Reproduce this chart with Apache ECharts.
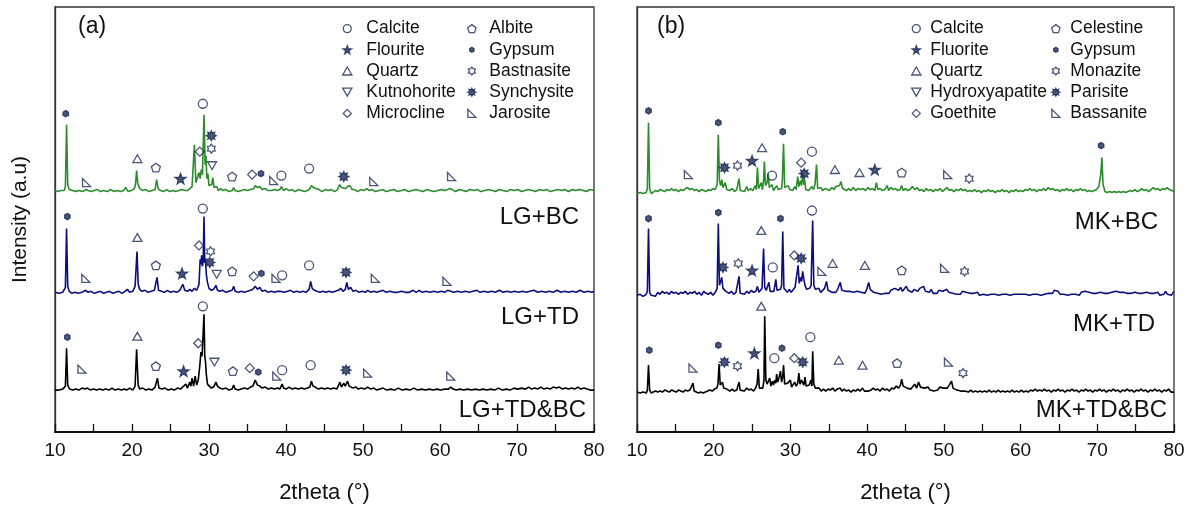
<!DOCTYPE html>
<html>
<head>
<meta charset="utf-8">
<title>XRD patterns</title>
<script src="https://cdn.jsdelivr.net/npm/echarts@6/dist/echarts.min.js"></script>
<style>
  html, body { margin: 0; padding: 0; background: #fff; }
  #chart { width: 1195px; height: 509px; }
</style>
</head>
<body>
<div id="chart"></div>
<script>
// ---------- data: 2theta (deg) vs. intensity (a.u.), each pattern relative to its own baseline ----------
const xTicks = [10, 20, 30, 40, 50, 60, 70, 80];
const sampleNamesA = ['LG+BC', 'LG+TD', 'LG+TD&BC'];
const sampleNamesB = ['MK+BC', 'MK+TD', 'MK+TD&BC'];
// vertical stacking of the three patterns in each panel
const stackA = [240, 138, 40];
const stackB = [238, 135, 38];

const lgBC = [[10,2],[10.4,1],[10.8,2],[11.2,2],[11.35,6],[11.5,68],[11.65,8],[11.85,3],[12.3,2],[12.7,1],[13.1,2],[13.6,1],[14.0,3],[14.3,2],[14.7,1],[15.1,2],[15.5,3],[15.9,1],[16.3,2],[16.8,1],[17.2,3],[17.7,1],[18.1,2],[18.5,1],[18.9,2],[19.2,5],[19.5,1],[19.9,2],[20.3,4],[20.45,8],[20.6,22],[20.75,9],[21.0,4],[21.4,2],[21.8,3],[22.2,1],[22.6,2],[23.0,3],[23.2,13],[23.4,4],[23.7,2],[24.1,1],[24.5,3],[24.9,1],[25.3,2],[25.7,1],[26.1,2],[26.4,3],[26.6,5],[26.9,2],[27.2,2],[27.5,4],[27.8,6],[28.1,48],[28.3,10],[28.5,12],[28.7,20],[28.85,14],[29.0,23],[29.15,18],[29.35,78],[29.5,28],[29.6,37],[29.72,14],[29.85,19],[30.0,7],[30.2,5],[30.35,8],[30.5,15],[30.65,5],[30.8,3],[31.0,6],[31.2,2],[31.5,4],[31.8,2],[32.2,3],[32.6,1],[33.0,2],[33.2,5],[33.4,2],[33.8,1],[34.2,2],[34.6,3],[35.0,2],[35.4,3],[35.8,4],[36.0,7],[36.3,5],[36.6,6],[36.9,3],[37.3,4],[37.7,2],[38.1,2],[38.5,3],[38.9,2],[39.2,3],[39.4,6],[39.7,2],[40.0,4],[40.4,2],[40.8,3],[41.2,1],[41.6,3],[42.0,2],[42.4,1],[42.8,2],[43.1,4],[43.3,7],[43.6,5],[43.9,4],[44.3,3],[44.7,1],[45.1,3],[45.5,2],[45.9,3],[46.3,1],[46.7,3],[46.95,8],[47.2,5],[47.45,7],[47.7,4],[48.0,6],[48.3,7],[48.6,3],[48.9,3],[49.3,1],[49.7,3],[50.1,2],[50.5,4],[50.8,2],[51.2,3],[51.6,1],[52.1,2],[52.6,3],[53.0,1],[53.5,2],[54.0,3],[54.5,1],[55.0,2],[55.4,3],[55.9,1],[56.4,2],[56.9,3],[57.3,2],[57.8,1],[58.3,3],[58.7,2],[59.2,1],[59.7,2],[60.2,3],[60.6,2],[61.0,3],[61.3,4],[61.6,3],[62.0,1],[62.5,3],[63.0,2],[63.4,1],[63.9,3],[64.4,2],[64.9,3],[65.3,1],[65.8,2],[66.3,3],[66.8,2],[67.2,1],[67.7,3],[68.2,2],[68.7,1],[69.1,3],[69.6,2],[70.1,3],[70.6,1],[71.0,2],[71.5,3],[72.0,2],[72.4,1],[72.9,3],[73.4,2],[73.9,3],[74.3,1],[74.8,2],[75.3,3],[75.8,2],[76.2,3],[76.7,1],[77.2,3],[77.6,2],[78.1,3],[78.6,2],[79.0,1],[79.5,3],[80,2]];

const lgTD = [[10,2],[10.5,1],[11.0,2],[11.35,7],[11.5,66],[11.65,8],[11.85,3],[12.2,1],[12.6,2],[13.0,1],[13.5,2],[14.0,4],[14.3,2],[14.7,3],[15.1,1],[15.5,2],[15.9,3],[16.3,1],[16.7,2],[17.1,3],[17.5,1],[17.9,2],[18.3,3],[18.7,1],[19.1,3],[19.4,5],[19.7,2],[20.1,3],[20.4,8],[20.65,43],[20.8,10],[21.0,5],[21.3,3],[21.7,4],[22.1,2],[22.5,3],[22.9,4],[23.1,6],[23.25,17],[23.45,4],[23.8,3],[24.2,2],[24.6,4],[25.0,2],[25.4,3],[25.8,2],[26.2,4],[26.6,10],[26.85,4],[27.2,3],[27.5,5],[27.8,3],[28.1,6],[28.4,4],[28.7,10],[28.85,35],[28.95,30],[29.05,39],[29.15,28],[29.25,34],[29.35,78],[29.45,32],[29.55,35],[29.65,20],[29.8,12],[30.0,6],[30.3,4],[30.6,5],[30.9,9],[31.1,4],[31.4,3],[31.8,4],[32.2,2],[32.6,3],[33.0,4],[33.2,8],[33.4,3],[33.8,2],[34.2,3],[34.6,2],[35.0,3],[35.4,4],[35.7,5],[36.0,8],[36.3,5],[36.6,7],[36.9,3],[37.3,4],[37.7,2],[38.1,3],[38.5,2],[38.9,3],[39.2,3],[39.45,5],[39.8,2],[40.2,3],[40.6,4],[41.0,2],[41.4,3],[41.8,2],[42.2,3],[42.6,2],[43.0,5],[43.2,13],[43.4,6],[43.7,4],[44.0,3],[44.4,2],[44.8,3],[45.2,2],[45.6,3],[46.0,2],[46.4,3],[46.8,4],[47.1,6],[47.4,3],[47.7,5],[47.9,12],[48.1,5],[48.4,7],[48.7,3],[49.1,4],[49.5,2],[49.9,3],[50.3,2],[50.6,4],[51.0,2],[51.4,3],[51.8,2],[52.2,3],[52.6,4],[53.0,2],[53.5,3],[54.0,2],[54.5,2],[55.0,3],[55.5,2],[56.0,2],[56.5,4],[56.9,2],[57.3,4],[57.7,2],[58.2,3],[58.7,2],[59.2,3],[59.7,2],[60.2,3],[60.6,2],[61.0,4],[61.4,3],[61.8,2],[62.3,3],[62.8,2],[63.3,3],[63.8,2],[64.3,3],[64.8,4],[65.2,2],[65.7,3],[66.2,2],[66.7,3],[67.2,2],[67.7,4],[68.2,2],[68.7,3],[69.2,2],[69.7,3],[70.2,2],[70.7,3],[71.2,2],[71.7,3],[72.2,4],[72.7,2],[73.2,3],[73.7,2],[74.2,3],[74.7,2],[75.2,4],[75.7,2],[76.2,3],[76.7,2],[77.2,3],[77.7,2],[78.2,4],[78.7,2],[79.2,3],[79.7,2],[80,3]];

const lgTDBC = [[10,2],[10.5,2],[11.0,3],[11.35,6],[11.5,44],[11.65,7],[11.9,3],[12.3,2],[12.7,3],[13.1,2],[13.5,4],[13.7,6],[13.9,3],[14.2,4],[14.6,2],[15.0,3],[15.4,2],[15.8,3],[16.2,2],[16.6,3],[17.0,2],[17.4,4],[17.8,2],[18.2,3],[18.6,2],[19.0,3],[19.3,2],[19.7,4],[20.1,2],[20.4,6],[20.6,43],[20.8,7],[21.0,3],[21.4,4],[21.8,2],[22.2,3],[22.6,2],[23.0,5],[23.3,14],[23.5,4],[23.9,3],[24.3,4],[24.7,2],[25.1,3],[25.5,2],[25.9,4],[26.3,3],[26.7,6],[27.0,8],[27.2,4],[27.5,10],[27.65,6],[27.8,14],[28.0,6],[28.2,16],[28.4,7],[28.6,12],[28.8,26],[28.95,40],[29.1,36],[29.2,38],[29.35,78],[29.45,36],[29.55,30],[29.65,18],[29.8,8],[30.0,6],[30.3,4],[30.6,5],[30.9,10],[31.1,6],[31.4,4],[31.8,3],[32.2,4],[32.6,2],[33.0,3],[33.2,7],[33.4,3],[33.8,2],[34.2,3],[34.6,4],[35.0,3],[35.4,5],[35.7,6],[36.0,12],[36.3,7],[36.6,6],[36.9,4],[37.3,5],[37.7,3],[38.1,4],[38.5,3],[38.9,4],[39.2,3],[39.5,8],[39.7,4],[40.0,3],[40.4,5],[40.8,3],[41.2,4],[41.6,3],[42.0,4],[42.4,3],[42.8,4],[43.1,5],[43.3,11],[43.5,6],[43.8,5],[44.2,3],[44.6,4],[45.0,3],[45.4,4],[45.8,3],[46.2,4],[46.6,3],[47.0,10],[47.2,5],[47.5,9],[47.7,6],[48.0,11],[48.2,6],[48.4,8],[48.7,4],[49.1,5],[49.4,3],[49.8,4],[50.2,3],[50.6,5],[51.0,3],[51.4,4],[51.8,2],[52.2,3],[52.6,4],[53.1,2],[53.6,3],[54.1,2],[54.6,4],[55.1,2],[55.6,3],[56.1,2],[56.6,4],[57.1,2],[57.6,3],[58.1,2],[58.6,3],[59.1,2],[59.6,3],[60.1,2],[60.6,3],[61.1,3],[61.4,5],[61.7,3],[62.1,2],[62.6,3],[63.1,2],[63.6,3],[64.1,2],[64.6,3],[65.1,2],[65.6,3],[66.1,2],[66.6,3],[67.1,2],[67.6,4],[68.1,2],[68.6,3],[69.1,2],[69.6,4],[70.1,3],[70.6,4],[71.1,3],[71.5,5],[71.9,3],[72.3,4],[72.7,3],[73.1,5],[73.5,3],[73.9,4],[74.3,3],[74.7,5],[75.1,4],[75.5,5],[75.9,3],[76.3,4],[76.7,3],[77.1,4],[77.5,3],[77.9,5],[78.3,3],[78.7,4],[79.1,3],[79.5,2],[80,2]];

const mkBC = [[10,1],[10.4,2],[10.8,1],[11.2,2],[11.35,6],[11.5,72],[11.65,6],[11.85,1],[12.1,3],[12.4,4],[12.7,3],[13.0,5],[13.3,4],[13.6,3],[13.9,5],[14.2,4],[14.5,6],[14.8,4],[15.1,5],[15.4,3],[15.7,5],[16.0,4],[16.3,6],[16.6,7],[16.9,5],[17.2,6],[17.5,4],[17.8,5],[18.1,3],[18.4,5],[18.7,4],[19.0,3],[19.3,5],[19.6,4],[19.9,6],[20.2,5],[20.45,10],[20.6,60],[20.75,14],[20.9,9],[21.05,15],[21.2,7],[21.35,8],[21.5,12],[21.7,5],[21.9,7],[22.1,4],[22.4,6],[22.7,3],[23.0,5],[23.15,7],[23.3,16],[23.45,4],[23.7,6],[24.0,3],[24.3,8],[24.5,4],[24.8,6],[25.1,4],[25.4,9],[25.55,5],[25.7,27],[25.85,6],[26.05,8],[26.2,12],[26.35,5],[26.5,14],[26.6,33],[26.75,9],[26.95,12],[27.1,21],[27.25,7],[27.45,8],[27.6,10],[27.8,4],[28.0,6],[28.2,9],[28.4,5],[28.6,7],[28.85,6],[28.95,15],[29.1,51],[29.25,7],[29.45,6],[29.7,9],[29.9,5],[30.1,6],[30.3,4],[30.55,8],[30.75,5],[30.95,18],[31.1,8],[31.3,14],[31.45,9],[31.6,22],[31.75,10],[31.85,15],[32.0,5],[32.2,6],[32.4,4],[32.6,6],[32.8,8],[33.0,5],[33.2,10],[33.4,30],[33.55,6],[33.8,5],[34.0,7],[34.2,4],[34.5,6],[34.8,5],[35.1,4],[35.4,7],[35.7,5],[35.9,8],[36.15,6],[36.4,9],[36.6,13],[36.8,6],[37.0,8],[37.3,4],[37.6,6],[37.9,4],[38.2,7],[38.5,4],[38.8,6],[39.0,8],[39.2,5],[39.5,6],[39.8,4],[40.1,7],[40.4,5],[40.7,6],[41.0,4],[41.2,12],[41.4,5],[41.7,6],[42.0,4],[42.3,5],[42.6,9],[42.8,4],[43.1,7],[43.4,5],[43.7,6],[44.0,4],[44.3,5],[44.5,9],[44.7,4],[45.0,6],[45.3,4],[45.6,5],[45.9,8],[46.2,5],[46.5,7],[46.8,4],[47.1,5],[47.4,3],[47.7,6],[48.0,4],[48.3,5],[48.6,3],[48.9,5],[49.2,4],[49.5,6],[49.8,3],[50.1,5],[50.4,7],[50.7,4],[51.0,5],[51.3,3],[51.6,5],[51.9,4],[52.2,6],[52.5,4],[52.8,5],[53.1,3],[53.4,4],[53.7,3],[54.0,5],[54.3,3],[54.6,4],[54.9,2],[55.2,4],[55.5,3],[55.8,5],[56.1,3],[56.4,4],[56.7,2],[57.0,4],[57.3,3],[57.6,5],[57.9,3],[58.2,4],[58.5,2],[58.8,4],[59.1,3],[59.4,5],[59.7,3],[60.0,4],[60.3,3],[60.6,5],[60.9,4],[61.2,6],[61.5,4],[61.8,5],[62.1,3],[62.4,5],[62.7,4],[63.0,6],[63.3,4],[63.6,7],[63.9,5],[64.2,6],[64.5,4],[64.8,5],[65.1,3],[65.4,5],[65.7,4],[66.0,6],[66.3,4],[66.6,5],[66.9,3],[67.2,5],[67.5,4],[67.8,6],[68.1,4],[68.4,5],[68.7,3],[69.0,4],[69.3,3],[69.6,4],[69.9,5],[70.2,8],[70.45,20],[70.6,37],[70.75,10],[71.0,3],[71.3,2],[71.6,3],[71.9,2],[72.2,3],[72.5,2],[72.8,3],[73.1,2],[73.4,3],[73.7,2],[74.0,3],[74.3,4],[74.6,3],[74.9,5],[75.2,3],[75.5,4],[75.8,6],[76.1,4],[76.4,5],[76.7,3],[77.0,5],[77.3,7],[77.6,5],[77.9,6],[78.2,4],[78.5,6],[78.8,5],[79.1,7],[79.4,5],[79.7,4],[80,3]];

const mkTD = [[10,2],[10.4,3],[10.8,1],[11.2,3],[11.35,6],[11.5,69],[11.65,5],[11.85,2],[12.1,4],[12.4,1],[12.7,5],[13.0,3],[13.3,6],[13.6,4],[13.9,5],[14.2,3],[14.5,6],[14.8,4],[15.1,5],[15.4,3],[15.7,5],[16.0,4],[16.3,6],[16.6,3],[16.9,5],[17.2,4],[17.5,6],[17.8,3],[18.1,5],[18.4,2],[18.7,6],[19.0,4],[19.3,3],[19.6,5],[19.9,2],[20.2,5],[20.45,9],[20.6,74],[20.75,12],[20.9,16],[21.05,20],[21.2,9],[21.4,11],[21.6,6],[21.8,8],[22.0,4],[22.3,6],[22.6,3],[22.9,5],[23.15,6],[23.3,21],[23.45,4],[23.7,5],[24.0,3],[24.3,6],[24.6,4],[24.9,7],[25.2,5],[25.5,6],[25.7,11],[25.9,5],[26.1,7],[26.3,9],[26.5,49],[26.65,10],[26.85,7],[27.05,9],[27.2,15],[27.35,6],[27.6,8],[27.85,6],[28.1,18],[28.25,7],[28.5,9],[28.7,8],[28.85,12],[29.0,66],[29.15,9],[29.35,7],[29.6,5],[29.85,8],[30.1,5],[30.35,7],[30.6,10],[30.85,12],[31.0,32],[31.15,14],[31.3,20],[31.45,16],[31.6,26],[31.75,18],[31.9,12],[32.1,8],[32.3,6],[32.5,9],[32.7,12],[32.9,77],[33.05,12],[33.25,8],[33.45,6],[33.7,9],[33.95,5],[34.2,7],[34.45,9],[34.7,16],[34.9,7],[35.15,9],[35.4,5],[35.65,7],[35.9,5],[36.15,8],[36.35,10],[36.5,15],[36.7,7],[36.95,5],[37.2,6],[37.45,4],[37.7,6],[37.95,4],[38.2,5],[38.45,3],[38.7,6],[38.95,4],[39.2,5],[39.45,7],[39.7,4],[39.95,8],[40.2,15],[40.4,8],[40.6,10],[40.85,5],[41.1,6],[41.35,4],[41.6,5],[41.85,3],[42.1,5],[42.35,4],[42.6,6],[42.85,4],[43.1,7],[43.35,5],[43.6,9],[43.85,11],[44.1,7],[44.35,10],[44.6,6],[44.85,8],[45.1,11],[45.35,7],[45.6,9],[45.85,5],[46.1,8],[46.35,10],[46.6,6],[46.85,9],[47.1,7],[47.35,11],[47.6,6],[47.85,7],[48.1,5],[48.35,8],[48.6,4],[48.85,6],[49.1,4],[49.35,7],[49.6,5],[49.85,6],[50.1,4],[50.4,8],[50.65,5],[50.9,6],[51.15,4],[51.4,6],[51.65,3],[51.9,5],[52.15,3],[52.4,6],[52.65,4],[52.9,5],[53.15,3],[53.4,4],[53.65,2],[53.9,4],[54.15,3],[54.4,5],[54.65,2],[54.9,4],[55.15,3],[55.4,4],[55.65,2],[55.9,4],[56.15,3],[56.4,5],[56.65,3],[56.9,4],[57.15,2],[57.4,4],[57.65,3],[57.9,5],[58.15,3],[58.4,4],[58.65,2],[58.9,4],[59.15,3],[59.4,5],[59.65,3],[59.9,4],[60.15,3],[60.4,5],[60.65,3],[60.9,4],[61.15,2],[61.4,4],[61.65,3],[61.9,5],[62.15,3],[62.4,4],[62.65,2],[62.9,4],[63.15,3],[63.4,5],[63.65,4],[63.9,6],[64.15,4],[64.4,7],[64.65,5],[64.9,6],[65.15,3],[65.4,5],[65.65,3],[65.9,4],[66.15,2],[66.4,4],[66.65,3],[66.9,5],[67.15,3],[67.4,4],[67.65,2],[67.9,5],[68.15,3],[68.4,6],[68.65,4],[68.9,5],[69.15,3],[69.4,4],[69.65,2],[69.9,4],[70.15,3],[70.4,5],[70.65,3],[70.9,4],[71.15,2],[71.4,4],[71.65,3],[71.9,5],[72.15,3],[72.4,6],[72.65,4],[72.9,5],[73.15,3],[73.4,5],[73.65,3],[73.9,4],[74.15,2],[74.4,4],[74.65,3],[74.9,5],[75.15,3],[75.4,4],[75.65,2],[75.9,4],[76.15,3],[76.4,5],[76.65,3],[76.9,4],[77.15,2],[77.4,4],[77.65,3],[77.9,5],[78.15,2],[78.4,4],[78.65,3],[78.9,6],[79.15,3],[79.4,5],[79.65,2],[80,6]];

const mkTDBC = [[10,2],[10.4,1],[10.8,2],[11.2,1],[11.35,4],[11.5,29],[11.65,4],[11.85,1],[12.1,2],[12.4,3],[12.7,2],[13.0,3],[13.3,2],[13.6,4],[13.9,3],[14.2,2],[14.5,4],[14.8,3],[15.1,2],[15.4,4],[15.7,3],[16.0,2],[16.3,4],[16.6,3],[16.9,4],[17.15,3],[17.3,11],[17.45,3],[17.7,2],[18.0,1],[18.3,2],[18.6,1],[18.9,2],[19.2,3],[19.5,4],[19.8,3],[20.1,5],[20.4,6],[20.55,10],[20.7,30],[20.85,9],[21.0,7],[21.15,12],[21.3,6],[21.5,8],[21.7,5],[21.9,6],[22.1,3],[22.4,5],[22.7,3],[23.0,4],[23.15,5],[23.3,12],[23.45,4],[23.7,5],[24.0,3],[24.3,6],[24.6,4],[24.9,5],[25.2,3],[25.45,6],[25.65,10],[25.8,25],[25.95,6],[26.2,8],[26.4,6],[26.55,14],[26.65,78],[26.8,14],[26.95,10],[27.1,12],[27.3,16],[27.45,8],[27.65,13],[27.8,9],[27.95,14],[28.1,11],[28.2,20],[28.35,12],[28.5,16],[28.7,23],[28.85,12],[29.0,18],[29.1,29],[29.25,10],[29.45,8],[29.65,11],[29.85,9],[30.0,14],[30.15,7],[30.35,9],[30.55,12],[30.75,8],[30.95,11],[31.1,21],[31.25,10],[31.45,14],[31.6,12],[31.75,9],[31.9,17],[32.05,8],[32.25,6],[32.45,9],[32.65,14],[32.8,8],[32.9,43],[33.05,10],[33.25,6],[33.5,4],[33.75,6],[34.0,3],[34.3,5],[34.6,3],[34.9,5],[35.2,4],[35.5,6],[35.8,3],[36.1,5],[36.35,4],[36.5,6],[36.7,3],[37.0,5],[37.3,3],[37.6,4],[37.9,2],[38.2,4],[38.5,3],[38.8,5],[39.1,3],[39.4,6],[39.65,3],[39.9,5],[40.2,3],[40.5,4],[40.8,6],[41.1,4],[41.4,5],[41.7,3],[42.0,6],[42.3,4],[42.6,5],[42.9,3],[43.2,6],[43.5,5],[43.8,8],[44.1,6],[44.35,9],[44.5,15],[44.7,8],[44.95,10],[45.2,6],[45.45,8],[45.7,5],[45.95,7],[46.2,10],[46.45,6],[46.7,12],[46.95,7],[47.2,9],[47.45,6],[47.7,5],[47.95,7],[48.2,4],[48.45,6],[48.7,3],[48.95,5],[49.2,4],[49.45,7],[49.7,5],[49.95,6],[50.2,8],[50.45,6],[50.7,9],[50.85,7],[51.0,13],[51.2,6],[51.45,8],[51.7,4],[51.95,6],[52.2,3],[52.45,5],[52.7,3],[52.95,4],[53.2,2],[53.5,4],[53.8,2],[54.1,3],[54.4,2],[54.7,3],[55.0,2],[55.3,3],[55.6,2],[55.9,4],[56.2,2],[56.5,3],[56.8,2],[57.1,4],[57.4,2],[57.7,3],[58.0,2],[58.3,3],[58.6,2],[58.9,4],[59.2,2],[59.5,3],[59.8,2],[60.1,4],[60.4,2],[60.7,3],[61.0,2],[61.3,4],[61.6,3],[61.9,5],[62.2,3],[62.5,4],[62.8,3],[63.1,5],[63.4,3],[63.7,4],[64.0,2],[64.3,4],[64.6,3],[64.9,5],[65.2,3],[65.5,4],[65.8,2],[66.1,4],[66.4,3],[66.7,5],[67.0,3],[67.3,4],[67.6,2],[67.9,4],[68.2,3],[68.5,5],[68.8,3],[69.1,4],[69.4,2],[69.7,4],[70.0,3],[70.3,5],[70.6,3],[70.9,4],[71.2,2],[71.5,4],[71.8,3],[72.1,5],[72.4,3],[72.7,4],[73.0,2],[73.3,4],[73.6,3],[73.9,5],[74.2,3],[74.5,4],[74.8,2],[75.1,4],[75.4,3],[75.7,5],[76.0,3],[76.3,4],[76.6,2],[76.9,4],[77.2,3],[77.5,5],[77.8,3],[78.1,4],[78.4,2],[78.7,4],[79.0,3],[79.3,5],[79.6,2],[80,2]];

// ---------- phase identification marks: [2theta, intensity level on the stacked scale] ----------
const calciteA     = [[29.2,329],[39.4,257],[43.0,264],[29.2,224],[39.5,157],[43.0,167],[29.2,126],[39.5,62],[43.2,67]];
const flouriteA    = [[26.3,254],[26.5,159],[26.7,61]];
const quartzA      = [[20.7,274],[20.7,195],[20.7,96]];
const kutnohoriteA = [[30.4,267],[31.0,158],[30.7,70]];
const microclineA  = [[28.8,281],[35.6,258],[28.7,187],[35.8,156],[28.6,89],[35.3,64]];
const albiteA      = [[23.1,265],[33.0,256],[23.1,167],[33.0,161],[23.1,66],[33.1,61]];
const gypsumA      = [[11.4,319],[36.75,259],[11.6,216],[36.8,159],[11.6,95],[36.4,60]];
const bastnasiteA  = [[30.3,284],[30.2,181]];
const synchysiteA  = [[30.3,297],[47.5,256],[30.1,170],[47.8,160],[47.8,62]];
const jarositeA    = [[14.1,250],[38.4,252],[51.4,251],[61.5,256],[14.0,154],[38.7,154],[51.6,154],[60.9,151],[13.5,63],[38.8,56],[50.6,59],[61.4,56]];

const calciteB        = [[27.6,257],[32.8,281],[27.7,165],[32.8,222],[27.9,74],[32.6,95]];
const fluoriteB       = [[25.0,272],[41.0,263],[25.0,162],[25.3,79]];
const quartzB         = [[26.3,285],[35.8,263],[39.0,260],[26.2,202],[35.5,169],[39.7,167],[26.2,126],[36.3,72],[39.4,67]];
const hydroxyapatiteB = [];
const goethiteB       = [[31.4,270],[30.5,177],[30.5,74]];
const celestineB      = [[44.5,260],[44.5,162],[43.9,69]];
const gypsumB         = [[11.5,322],[20.6,310],[29.0,301],[70.5,287],[11.5,214],[20.6,220],[28.7,214],[11.6,82],[20.6,87],[28.9,84]];
const monaziteB       = [[23.1,267],[53.3,254],[23.2,169],[52.7,161],[23.1,66],[52.5,59]];
const parisiteB       = [[21.4,265],[31.8,259],[21.2,165],[31.4,174],[21.4,70],[31.6,70]];
const bassaniteB      = [[16.7,258],[50.5,258],[34.1,161],[50.1,164],[17.3,64],[50.6,70]];

// ---------- styling ----------
const FONT = '"Liberation Sans", Arial, sans-serif';
const INK = '#1b2a57';
const lineColors = ['#2b8c2b', '#0d0d7c', '#000000'];

const SYM = {
  circle:   'circle',
  // small hexagonal dot, padded so that it sits smaller than the other icons
  dot:      'path://M-3,-3 M13,13 M5,0 L9.33,2.5 L9.33,7.5 L5,10 L0.67,7.5 L0.67,2.5 Z',
  star:     'path://M10,0 L12.35,6.76 L19.51,6.91 L13.8,11.24 L15.88,18.09 L10,14 L4.12,18.09 L6.2,11.24 L0.49,6.91 L7.65,6.76 Z',
  tri:      'path://M10,0 L20,17.32 L0,17.32 Z',
  invTri:   'path://M0,0 L20,0 L10,17.32 Z',
  diamond:  'path://M10,0 L20,10 L10,20 L0,10 Z',
  pentagon: 'path://M10,0 L19.5,6.9 L15.9,18.1 L4.1,18.1 L0.5,6.9 Z',
  hexStar:  'path://M10,0 L13.25,4.37 L18.66,5 L16.5,10 L18.66,15 L13.25,15.63 L10,20 L6.75,15.63 L1.34,15 L3.5,10 L1.34,5 L6.75,4.37 Z',
  burst:    'path://M20,10 L15.54,12.3 L17.07,17.07 L12.3,15.54 L10,20 L7.7,15.54 L2.93,17.07 L4.46,12.3 L0,10 L4.46,7.7 L2.93,2.93 L7.7,4.46 L10,0 L12.3,4.46 L17.07,2.93 L15.54,7.7 Z',
  rightTri: 'path://M0,0 L0,20 L20,20 Z'
};
// symbol, size, filled
const phaseStyle = {
  'Calcite':        [SYM.circle, 9, false],
  'Flourite':       [SYM.star, 11, true],
  'Fluorite':       [SYM.star, 11, true],
  'Quartz':         [SYM.tri, 9, false],
  'Kutnohorite':    [SYM.invTri, 9, false],
  'Hydroxyapatite': [SYM.invTri, 9, false],
  'Microcline':     [SYM.diamond, 9, false],
  'Goethite':       [SYM.diamond, 9, false],
  'Albite':         [SYM.pentagon, 9, false],
  'Celestine':      [SYM.pentagon, 9, false],
  'Gypsum':         [SYM.dot, 10, true],
  'Bastnasite':     [SYM.hexStar, 9, false],
  'Monazite':       [SYM.hexStar, 9, false],
  'Synchysite':     [SYM.burst, 10, true],
  'Parisite':       [SYM.burst, 10, true],
  'Jarosite':       [SYM.rightTri, 8, false],
  'Bassanite':      [SYM.rightTri, 8, false]
};

const phasesA = [
  ['Calcite', calciteA], ['Flourite', flouriteA], ['Quartz', quartzA], ['Kutnohorite', kutnohoriteA],
  ['Microcline', microclineA], ['Albite', albiteA], ['Gypsum', gypsumA], ['Bastnasite', bastnasiteA],
  ['Synchysite', synchysiteA], ['Jarosite', jarositeA]
];
const phasesB = [
  ['Calcite', calciteB], ['Fluorite', fluoriteB], ['Quartz', quartzB], ['Hydroxyapatite', hydroxyapatiteB],
  ['Goethite', goethiteB], ['Celestine', celestineB], ['Gypsum', gypsumB], ['Monazite', monaziteB],
  ['Parisite', parisiteB], ['Bassanite', bassaniteB]
];

function itemStyleFor(name) {
  const filled = phaseStyle[name][2];
  return { color: filled ? INK : 'rgba(255,255,255,0)', borderColor: INK, borderWidth: 1.3 };
}

const series = [];
function addPatterns(panel, patterns, stack) {
  patterns.forEach((pts, i) => {
    series.push({
      type: 'line', xAxisIndex: panel, yAxisIndex: panel,
      data: pts.map(p => [p[0], p[1] + stack[i]]),
      showSymbol: false, symbol: 'none', silent: true,
      lineStyle: { color: lineColors[i], width: 1.6 },
      z: 2
    });
  });
}
function addPhases(panel, phases) {
  phases.forEach(([name, pts]) => {
    const st = phaseStyle[name];
    series.push({
      type: 'scatter', name: name, xAxisIndex: panel, yAxisIndex: panel,
      data: pts, symbol: st[0], symbolSize: st[1], symbolKeepAspect: true,
      itemStyle: itemStyleFor(name), silent: true, z: 5
    });
  });
}
addPatterns(0, [lgBC, lgTD, lgTDBC], stackA);
addPatterns(1, [mkBC, mkTD, mkTDBC], stackB);
addPhases(0, phasesA);
addPhases(1, phasesB);

function legendCol(names, left, top, itemWidth) {
  return {
    orient: 'vertical', left: left, top: top, padding: 0, itemGap: 0,
    itemWidth: itemWidth, itemHeight: 8, selectedMode: false,
    textStyle: { fontFamily: FONT, fontSize: 17.5, color: '#111', lineHeight: 21.2 },
    data: names.map(n => ({ name: n, icon: phaseStyle[n][0], itemStyle: itemStyleFor(n) }))
  };
}

const axisLabelStyle = { fontFamily: FONT, fontSize: 19, color: '#111', margin: 9 };
function xAxisFor(gridIndex) {
  return {
    gridIndex: gridIndex, type: 'value', min: xTicks[0], max: xTicks[xTicks.length - 1], interval: 10,
    axisLine: { show: true, onZero: false, lineStyle: { color: '#111', width: 2 } },
    axisTick: { show: true, inside: true, length: 8, lineStyle: { color: '#111', width: 1.3 } },
    minorTick: { show: true, splitNumber: 2, length: 8, lineStyle: { color: '#111', width: 1.3 } },
    axisLabel: axisLabelStyle,
    splitLine: { show: false },
    name: '2theta (°)', nameLocation: 'middle', nameGap: 50,
    nameTextStyle: { fontFamily: FONT, fontSize: 22, color: '#111' }
  };
}
function yAxisFor(gridIndex, withName) {
  const ax = {
    gridIndex: gridIndex, type: 'value', min: 0, max: 426,
    axisLine: { show: true, lineStyle: { color: '#333', width: 1.3 } },
    axisTick: { show: false }, axisLabel: { show: false }, splitLine: { show: false }
  };
  if (withName) {
    Object.assign(ax, {
      name: 'Intensity (a.u)', nameLocation: 'middle', nameGap: 24, nameRotate: 90,
      nameTextStyle: { fontFamily: FONT, fontSize: 21, color: '#111' }
    });
  }
  return ax;
}

function label(text, x, y, size, align) {
  return {
    type: 'text', x: x, y: y, silent: true,
    style: { text: text, fill: '#111', font: size + 'px ' + FONT, align: align || 'left', verticalAlign: 'middle' }
  };
}

const chart = echarts.init(document.getElementById('chart'), null, { renderer: 'canvas' });
chart.setOption({
  animation: false,
  backgroundColor: '#fff',
  grid: [
    { left: 55, top: 7, width: 539, height: 426, show: true, borderColor: '#333', borderWidth: 1.3, backgroundColor: 'transparent' },
    { left: 637, top: 7, width: 537, height: 426, show: true, borderColor: '#333', borderWidth: 1.3, backgroundColor: 'transparent' }
  ],
  xAxis: [xAxisFor(0), xAxisFor(1)],
  yAxis: [yAxisFor(0, true), yAxisFor(1, false)],
  legend: [
    legendCol(['Calcite', 'Flourite', 'Quartz', 'Kutnohorite', 'Microcline'], 342, 18, 28),
    legendCol(['Albite', 'Gypsum', 'Bastnasite', 'Synchysite', 'Jarosite'], 467, 18, 25),
    legendCol(['Calcite', 'Fluorite', 'Quartz', 'Hydroxyapatite', 'Goethite'], 911, 18, 18),
    legendCol(['Celestine', 'Gypsum', 'Monazite', 'Parisite', 'Bassanite'], 1051, 18, 19)
  ],
  graphic: [
    label('(a)', 78, 27, 23),
    label('(b)', 657, 27, 23),
    label(sampleNamesA[0], 579, 217, 24, 'right'),
    label(sampleNamesA[1], 579, 317, 24, 'right'),
    label(sampleNamesA[2], 586, 410, 24, 'right'),
    label(sampleNamesB[0], 1158, 222, 24, 'right'),
    label(sampleNamesB[1], 1155, 324, 24, 'right'),
    label(sampleNamesB[2], 1167, 410, 24, 'right')
  ],
  series: series
});
</script>
</body>
</html>
